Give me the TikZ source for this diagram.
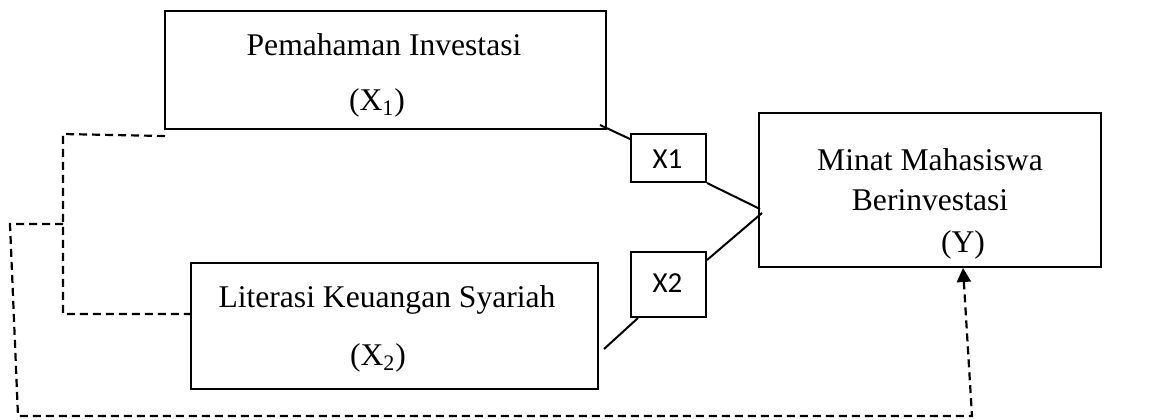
\documentclass[tikz,border=0pt]{standalone}
\usepackage{fontspec}
\setmainfont{Liberation Serif}
\newfontfamily\calfont{Carlito}
\usetikzlibrary{arrows.meta,calc}
\begin{document}
\begin{tikzpicture}[x=0.5pt,y=-0.5pt,
  box/.style={draw,line width=1pt,inner sep=0pt,anchor=north west},
  txt/.style={inner sep=0pt,font=\fontsize{15.8}{19}\selectfont},
  lab/.style={inner sep=0pt,font=\calfont\fontsize{14.5}{17}\selectfont},
  link/.style={line width=1pt},
  dline/.style={line width=1.1pt,dash pattern=on 4pt off 2.5pt}]
\useasboundingbox (0,0) rectangle (1165,419);
% boxes
\node[box,minimum width=220.5pt,minimum height=59pt] (b1) at (164,10) {};
\node[box,minimum width=203.5pt,minimum height=63pt] (b2) at (190,262) {};
\node[box,minimum width=171pt,minimum height=77pt] (by) at (758,112) {};
\node[box,minimum width=37.5pt,minimum height=24pt] (x1) at (630,133) {};
\node[box,minimum width=37.5pt,minimum height=32.5pt] (x2) at (630,251) {};
% texts
\node[txt] (t1a) at (384,45) {Pemahaman Investasi};
\node[txt] (t1b) at (377,103) {(X\textsubscript{1})};
\node[txt] (t2a) at (387,300) {Literasi Keuangan Syariah};
\node[txt] (t2b) at (378,358) {(X\textsubscript{2})};
\node[txt] (tya) at (930,160) {Minat Mahasiswa};
\node[txt] (tyb) at (930,200) {Berinvestasi};
\node[txt] (tyc) at (963,245) {(Y)};
\node[lab] (l1) at (667.5,159) {X1};
\node[lab] (l2) at (667.5,283) {X2};
% solid links
\coordinate (p1) at ($(b1.south east)+(-7,-5)$);
\coordinate (p2) at ($(b2.south east)+(5,-41)$);
\coordinate (y1) at ($(by.north west)+(2,97)$);
\coordinate (y2) at ($(by.north west)+(4,101)$);
\draw[link] (p1) -- ($(x1.north west)+(0,6)$);
\draw[link] (x1.south east) -- (y1);
\draw[link] ($(x2.north east)+(0,9)$) -- (y2);
\draw[link] ($(x2.south west)+(8,0)$) -- (p2);
% dashed links
\coordinate (d1) at ($(b1.south west)+(1,6)$);
\coordinate (d2) at ($(b2.north west)+(2,52)$);
\coordinate (j1) at (63,224);
\coordinate (yb) at ($(by.south west)+(205,0)$);
\draw[dline] (d1) -- (63,134) -- (63,314) -- (d2);
\draw[dline,-{Triangle[length=7pt,width=7pt]}] (j1) -- (10,224) -- (18,416) -- (972,416) -- (yb);
\end{tikzpicture}
\end{document}
